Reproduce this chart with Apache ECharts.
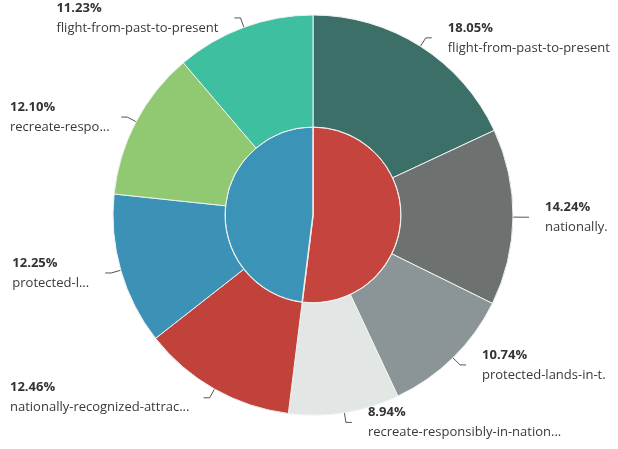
<!DOCTYPE html>
<html>
<head>
<meta charset="utf-8">
<script src="https://cdn.jsdelivr.net/npm/echarts@6/dist/echarts.min.js"></script>
<style>
  html, body { margin: 0; padding: 0; background: #fff; }
  #chart { width: 618px; height: 449px; }
</style>
</head>
<body>
<div id="chart"></div>
<script>
// outer ring (labels as they appear, truncated in the source)
const outerNames = [
  'flight-from-past-to-present',
  'nationally.',
  'protected-lands-in-t.',
  'recreate-responsibly-in-nation...',
  'nationally-recognized-attrac...',
  'protected-l...',
  'recreate-respo...',
  'flight-from-past-to-present',
]
const outerValues = [18.05, 14.24, 10.74, 8.94, 12.46, 12.25, 12.10, 11.23]
const outerColors = ['#3b6f68', '#6d7271', '#8b9598', '#e2e6e5', '#c0423b', '#3b92b6', '#91c872', '#3ebf9f']

// inner pie
const innerNames = ['group-a', 'group-b']
const innerValues = [51.97, 48.03]
const innerColors = ['#c6443e', '#3c93b8']

const chart = echarts.init(document.getElementById('chart'))

chart.setOption({
  backgroundColor: '#fff',
  animation: false,
  series: [
    {
      type: 'pie',
      center: [313, 215],
      radius: [0, 88],
      startAngle: 90,
      label: { show: false },
      labelLine: { show: false },
      itemStyle: { borderColor: '#f3ece6', borderWidth: 1.5 },
      data: innerNames.map((n, i) => ({
        name: n, value: innerValues[i], itemStyle: { color: innerColors[i] },
      })),
    },
    {
      type: 'pie',
      center: [313, 215],
      radius: [88, 200],
      startAngle: 90,
      itemStyle: { borderColor: '#eef2f0', borderWidth: 1 },
      label: {
        show: true,
        position: 'outside',
        overflow: 'none',
        distanceToLabelLine: 16,
        formatter: p => `{p|${p.value.toFixed(2)}%}\n{n|${p.name}}`,
        rich: {
          p: { fontFamily: 'Open Sans', fontSize: 13, fontWeight: 'bold', color: '#333', align: 'left', lineHeight: 20 },
          n: { fontFamily: 'Open Sans', fontSize: 13, color: '#3a3a3a', align: 'left', lineHeight: 20 },
        },
      },
      labelLine: {
        show: true,
        length: 10,
        length2: 6,
        lineStyle: { width: 1, color: '#555' },
      },
      data: outerNames.map((n, i) => ({
        name: n, value: outerValues[i], itemStyle: { color: outerColors[i] },
      })),
    },
  ],
})
</script>
</body>
</html>
